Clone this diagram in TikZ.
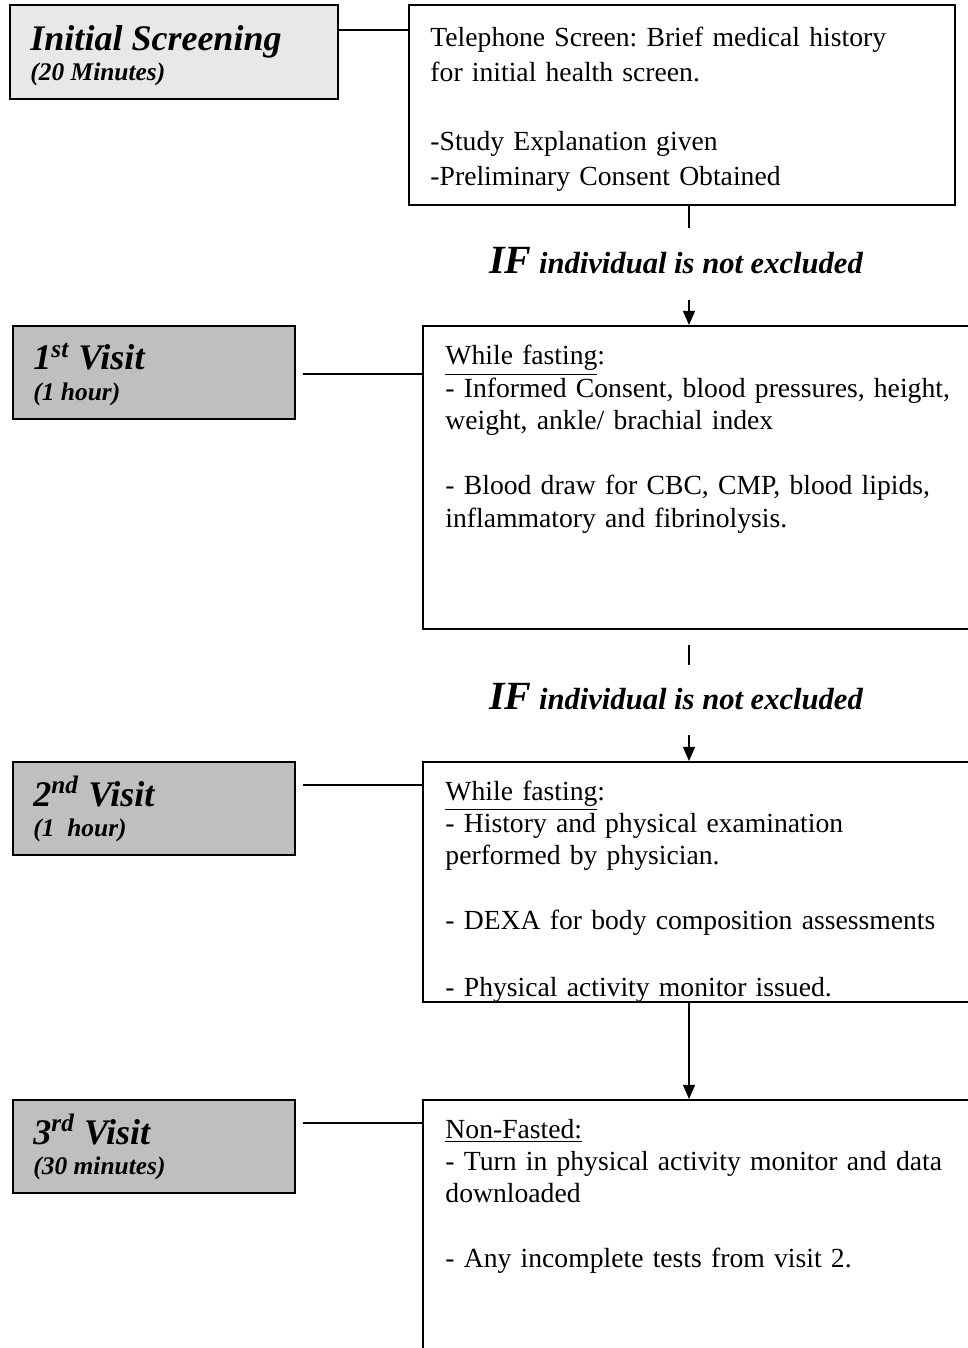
\documentclass[tikz,border=0pt]{standalone}
\usepackage{fontspec}
\setmainfont{Liberation Serif}
\usetikzlibrary{arrows.meta,calc,fit}
\definecolor{scrgray}{gray}{0.91}
\definecolor{visgray}{gray}{0.75}
\tikzset{
  stagebox/.style={draw, line width=1.1pt, inner sep=0pt},
  notebox/.style={draw, line width=0.8pt, inner sep=0pt},
  stagetxt/.style={anchor=base west, inner sep=0pt,
    font=\bfseries\itshape\fontsize{15.3}{17}\selectfont},
  timetxt/.style={anchor=base west, inner sep=0pt,
    font=\bfseries\itshape\fontsize{10.8}{13}\selectfont},
  notetxt/.style={anchor=base west, inner sep=0pt, align=left,
    text width=250pt, font=\frenchspacing\fontsize{11.75}{13.8}\selectfont},
  iftxt/.style={anchor=base, inner sep=0pt,
    font=\bfseries\itshape\fontsize{13}{15}\selectfont},
  link/.style={line width=0.8pt},
  flow/.style={line width=0.8pt, -{Triangle[width=5pt,length=6pt]}},
}
\newcommand{\bigif}{{\fontsize{17}{20}\selectfont IF}}

\begin{document}
\begin{tikzpicture}[x=0.425pt,y=-0.425pt]
  \useasboundingbox (0,0) rectangle (967,1348);

  % initial screening
  \node[stagebox, fill=scrgray, fit={(10,5) (338,99)}] (scr) {};
  \node[stagetxt] (scrT) at (30,51) {Initial Screening};
  \node[timetxt] (scrM) at (30,81) {(20 Minutes)};
  \node[notebox, fit={(409,5) (955,205)}] (tel) {};
  \node[notetxt, font=\frenchspacing\fontsize{11.75}{14.7}\selectfont] (telT) at (430,47)
    {Telephone Screen: Brief medical history\\ for initial health screen.\\[14.7pt]
     -Study Explanation given\\ -Preliminary Consent Obtained};
  \draw[link] (scr.east |- 0,30) -- (tel.west |- 0,30);

  \coordinate (c1) at (689,228);
  \draw[link] (tel.south -| c1) -- (c1);
  \node[iftxt] (if1) at (676,274) {\bigif\ individual is not excluded};
  \coordinate (c2) at (689,300);

  % 1st visit
  \node[stagebox, fill=visgray, fit={(13,326) (295,419)}] (v1) {};
  \node[stagetxt] (v1T) at (33,370) {1\textsuperscript{st} Visit};
  \node[timetxt] (v1M) at (33,401) {(1 hour)};
  \node[notebox, fit={(423,326) (1000,629)}] (fast1) {};
  \node[notetxt] (fast1T) at (445,365)
    {\underline{While fasting}:\\ - Informed Consent, blood pressures, height,\\
     weight, ankle/ brachial index\\[13.8pt]
     - Blood draw for CBC, CMP, blood lipids,\\ inflammatory and fibrinolysis.};
  \draw[link] ($(v1.east |- 0,374)+(7,0)$) -- (fast1.west |- 0,374);
  \draw[flow] (c2) -- (c2 |- fast1.north);

  \coordinate (c3) at (689,645);
  \coordinate (c4) at (689,665);
  \draw[link] (c3) -- (c4);
  \node[iftxt] (if2) at (676,709) {\bigif\ individual is not excluded};
  \coordinate (c5) at (689,735);

  % 2nd visit
  \node[stagebox, fill=visgray, fit={(13,762) (295,855)}] (v2) {};
  \node[stagetxt] (v2T) at (33,806) {2\textsuperscript{nd} Visit};
  \node[timetxt] (v2M) at (33,836) {(1~ hour)};
  \node[notebox, fit={(423,762) (1000,1002)}] (fast2) {};
  \begin{scope}
    \clip (fast2.north west) rectangle (fast2.south east);
    \node[notetxt] (fast2T) at (445,800)
      {\underline{While fasting}:\\ - History and physical examination\\
       performed by physician.\\[13.8pt]
       - DEXA for body composition assessments\\[14.6pt]
       - Physical activity monitor issued.};
  \end{scope}
  \draw[link] ($(v2.east |- 0,785)+(7,0)$) -- (fast2.west |- 0,785);
  \draw[flow] (c5) -- (c5 |- fast2.north);

  % 3rd visit
  \node[stagebox, fill=visgray, fit={(13,1100) (295,1193)}] (v3) {};
  \node[stagetxt] (v3T) at (33,1144) {3\textsuperscript{rd} Visit};
  \node[timetxt] (v3M) at (33,1174) {(30 minutes)};
  \node[notebox, fit={(423,1100) (1000,1400)}] (nonf) {};
  \node[notetxt] (nonfT) at (445,1138)
    {\underline{Non-Fasted:}\\ - Turn in physical activity monitor and data\\
     downloaded\\[13.8pt]
     - Any incomplete tests from visit 2.};
  \draw[link] ($(v3.east |- 0,1123)+(7,0)$) -- (nonf.west |- 0,1123);
  \draw[flow] (c5 |- fast2.south) -- (c5 |- nonf.north);
\end{tikzpicture}
\end{document}
